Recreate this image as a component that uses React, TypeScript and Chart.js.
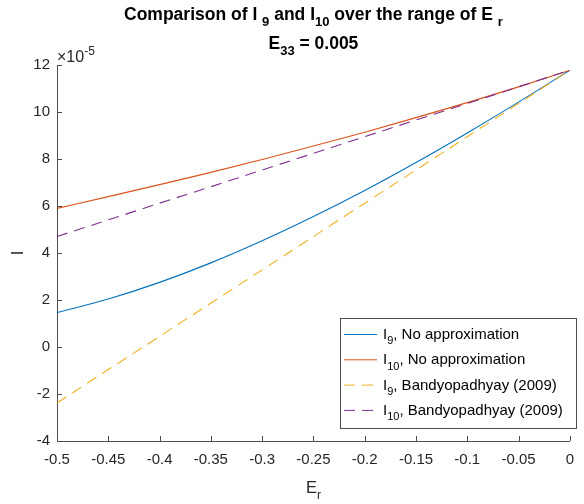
import React, { useEffect, useRef } from "react";
import { Chart, registerables } from "chart.js";

Chart.register(...registerables);

// E_r values (x axis)
const E_R = [-0.5, -0.45, -0.4, -0.35, -0.3, -0.25, -0.2, -0.15, -0.1, -0.05, 0];
// Values in units of 1e-5
const I9_EXACT = [1.46, 2.04, 2.75, 3.58, 4.52, 5.55, 6.66, 7.85, 9.11, 10.42, 11.78];
const I10_EXACT = [5.9, 6.4, 6.91, 7.43, 7.98, 8.55, 9.14, 9.76, 10.4, 11.07, 11.78];
const I9_BANDY = [-2.38, -0.96, 0.45, 1.87, 3.28, 4.7, 6.12, 7.53, 8.95, 10.36, 11.78];
const I10_BANDY = [4.7, 5.41, 6.12, 6.82, 7.53, 8.24, 8.95, 9.66, 10.36, 11.07, 11.78];

const X_TICKS = [-0.5, -0.45, -0.4, -0.35, -0.3, -0.25, -0.2, -0.15, -0.1, -0.05, 0];
const Y_TICKS = [-4, -2, 0, 2, 4, 6, 8, 10, 12];
const Y_EXPONENT = "-5";

type Part = [string, number]; // 0 normal, 1 subscript, 2 superscript

const SERIES: { label: Part[]; data: number[]; color: string; dash: number[] }[] = [
  { label: [["I", 0], ["9", 1], [", No approximation", 0]], data: I9_EXACT, color: "#0072BD", dash: [] },
  { label: [["I", 0], ["10", 1], [", No approximation", 0]], data: I10_EXACT, color: "#D95319", dash: [] },
  { label: [["I", 0], ["9", 1], [", Bandyopadhyay (2009)", 0]], data: I9_BANDY, color: "#EDB120", dash: [11, 7] },
  { label: [["I", 0], ["10", 1], [", Bandyopadhyay (2009)", 0]], data: I10_BANDY, color: "#7E2F8E", dash: [11, 7] },
];

const FAMILY = '"Liberation Sans", Arial, Helvetica, sans-serif';
const TEXT = "#262626";
const AXIS = "#4d4d4d";

function drawRich(
  ctx: CanvasRenderingContext2D,
  parts: Part[],
  x: number,
  y: number,
  align: "left" | "center" | "right",
  size: number,
  weight: string
) {
  const fontFor = (k: number) => `${weight} ${k ? Math.round(size * 0.72) : size}px ${FAMILY}`;
  let total = 0;
  const widths = parts.map(([t, k]) => {
    ctx.font = fontFor(k);
    const w = ctx.measureText(t).width;
    total += w;
    return w;
  });
  let cx = align === "center" ? x - total / 2 : align === "right" ? x - total : x;
  ctx.textAlign = "left";
  ctx.textBaseline = "alphabetic";
  parts.forEach(([t, k], i) => {
    ctx.font = fontFor(k);
    const dy = k === 1 ? size * 0.35 : k === 2 ? -size * 0.45 : 0;
    ctx.fillText(t, cx, y + dy);
    cx += widths[i];
  });
}

const decorPlugin = {
  id: "matlabDecor",
  afterDraw(chart: any) {
    const ctx: CanvasRenderingContext2D = chart.ctx;
    const area = chart.chartArea;
    const xs = chart.scales.x;
    const ys = chart.scales.y;
    ctx.save();
    // inside ticks
    ctx.strokeStyle = AXIS;
    ctx.lineWidth = 1;
    ctx.beginPath();
    X_TICKS.forEach((v) => {
      const px = Math.round(xs.getPixelForValue(v)) + 0.5;
      ctx.moveTo(px, area.bottom);
      ctx.lineTo(px, area.bottom - 5);
    });
    Y_TICKS.forEach((v) => {
      const py = Math.round(ys.getPixelForValue(v)) + 0.5;
      ctx.moveTo(area.left, py);
      ctx.lineTo(area.left + 5, py);
    });
    ctx.stroke();

    ctx.fillStyle = "#000";
    const cx = (area.left + area.right) / 2;
    // Title
    drawRich(
      ctx,
      [["Comparison of I ", 0], ["9", 1], [" and I", 0], ["10", 1], [" over the range of E ", 0], ["r", 1]],
      cx,
      20,
      "center",
      17.5,
      "bold"
    );
    drawRich(ctx, [["E", 0], ["33", 1], [" = 0.005", 0]], cx, 49, "center", 17.5, "bold");

    // exponent
    ctx.fillStyle = TEXT;
    drawRich(ctx, [["\u00d710", 0], [Y_EXPONENT, 2]], area.left, 62, "left", 16, "normal");

    // x label
    drawRich(ctx, [["E", 0], ["r", 1]], cx, 493, "center", 16.5, "normal");
    // y label
    ctx.save();
    ctx.translate(23, (area.top + area.bottom) / 2);
    ctx.rotate(-Math.PI / 2);
    drawRich(ctx, [["I", 0]], 0, 0, "center", 16.5, "normal");
    ctx.restore();

    // legend
    const lx = 340, ly = 318, lw = 236, lh = 110;
    ctx.fillStyle = "#fff";
    ctx.fillRect(lx, ly, lw, lh);
    ctx.strokeStyle = AXIS;
    ctx.strokeRect(lx + 0.5, ly + 0.5, lw, lh);
    SERIES.forEach((s, i) => {
      const yy = ly + 16 + i * 25.3;
      ctx.strokeStyle = s.color;
      ctx.lineWidth = 1;
      ctx.setLineDash(s.dash.length ? [11, 7] : []);
      ctx.beginPath();
      ctx.moveTo(lx + 4, yy + 0.5);
      ctx.lineTo(lx + 37, yy + 0.5);
      ctx.stroke();
      ctx.setLineDash([]);
      ctx.fillStyle = "#000";
      drawRich(ctx, s.label, lx + 43, yy + 5, "left", 15, "normal");
    });
    ctx.restore();
  },
};

export default function App() {
  const ref = useRef<HTMLCanvasElement>(null);
  useEffect(() => {
    if (!ref.current) return;
    const chart = new Chart(ref.current, {
      type: "line",
      data: {
        datasets: SERIES.map((s, i) => ({
          label: s.label.map((p) => p[0]).join(""),
          data: E_R.map((x, j) => ({ x, y: s.data[j] })),
          borderColor: s.color,
          backgroundColor: s.color,
          borderWidth: 1.1,
          borderDash: s.dash,
          pointRadius: 0,
          cubicInterpolationMode: "monotone" as const,
          fill: false,
          order: 4 - i,
        })),
      },
      options: {
        animation: false,
        responsive: false,
        maintainAspectRatio: false,
        layout: { padding: { top: 65, right: 4, left: 0, bottom: 0 } },
        plugins: { legend: { display: false }, title: { display: false }, tooltip: { enabled: false } },
        scales: {
          x: {
            type: "linear",
            min: -0.5,
            max: 0,
            afterBuildTicks: (s: any) => {
              s.ticks = X_TICKS.map((v) => ({ value: v }));
            },
            afterFit: (s: any) => {
              s.height = 63;
            },
            grid: { display: false, drawTicks: false },
            border: { display: true, color: AXIS, width: 1 },
            ticks: {
              autoSkip: false,
              maxRotation: 0,
              padding: 10,
              color: TEXT,
              font: { family: FAMILY, size: 15 },
              callback: (v: any) => String(Math.round(Number(v) * 100) / 100),
            },
          },
          y: {
            type: "linear",
            min: -4,
            max: 12,
            afterBuildTicks: (s: any) => {
              s.ticks = Y_TICKS.map((v) => ({ value: v }));
            },
            afterFit: (s: any) => {
              s.width = 57;
            },
            grid: { display: false, drawTicks: false },
            border: { display: true, color: AXIS, width: 1 },
            ticks: {
              padding: 7,
              color: TEXT,
              font: { family: FAMILY, size: 15 },
              callback: (v: any) => String(v),
            },
          },
        },
      },
      plugins: [decorPlugin],
    });
    return () => chart.destroy();
  }, []);
  return (
    <div style={{ position: "fixed", left: 0, top: 0, width: 584, height: 504, background: "#fff" }}>
      <canvas ref={ref} width={584} height={504} style={{ width: 584, height: 504, display: "block" }} />
    </div>
  );
}
